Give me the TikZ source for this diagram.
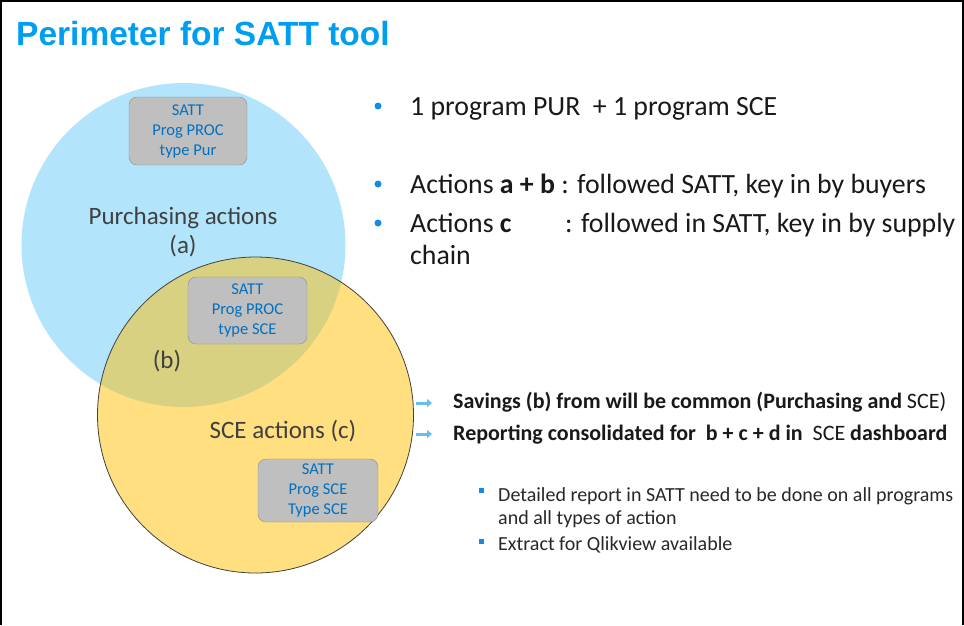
\documentclass[tikz,border=0pt]{standalone}
\usepackage{fontspec}
\setmainfont{Carlito}
\newfontfamily\titlefont{Liberation Sans}
\usetikzlibrary{arrows.meta}
\definecolor{cblue}{RGB}{178,229,252}
\definecolor{cyellow}{RGB}{255,223,128}
\definecolor{cover}{RGB}{216,209,130}
\definecolor{titleblue}{RGB}{0,158,240}
\definecolor{boxtext}{RGB}{0,112,192}
\definecolor{boxfill}{RGB}{191,191,191}
\definecolor{boxline}{RGB}{140,140,140}
\definecolor{labelgray}{RGB}{64,64,64}
\definecolor{bulletblue}{RGB}{20,140,230}
\definecolor{arrowblue}{RGB}{100,190,240}
\definecolor{bodytext}{RGB}{25,25,25}
\definecolor{smalltext}{RGB}{40,40,40}
\begin{document}
\begin{tikzpicture}[x=1pt,y=-1pt,
  sattbox/.style={draw=boxline, fill=boxfill, rounded corners=8pt, text=boxtext, align=center,
    font=\fontsize{16.5}{20}\selectfont, inner sep=0pt},
  circlabel/.style={anchor=base, text=labelgray, font=\fontsize{25}{30}\selectfont, inner sep=0pt},
  bigtext/.style={anchor=base west, text=bodytext, font=\fontsize{27.8}{32}\selectfont, inner sep=0pt},
  midtext/.style={anchor=base west, text=bodytext, font=\fontsize{22}{25}\selectfont, inner sep=0pt},
  smalltxt/.style={anchor=base west, text=smalltext, font=\fontsize{20}{23}\selectfont, inner sep=0pt},
  bigdot/.style={fill=bulletblue},
  sqdot/.style={fill=bulletblue},
  arrmark/.style={draw=arrowblue, line width=3pt, -{Triangle[length=5pt,width=8pt]}}
]
\useasboundingbox (0,0) rectangle (964,625);
\fill[white] (0,0) rectangle (964,625);
\draw[line width=2pt] (1,625) -- (1,1) -- (963,1) -- (963,625);

% title
\node[anchor=base west, text=titleblue, font=\titlefont\bfseries\fontsize{33.5}{40}\selectfont, inner sep=0pt] (title) at (16,45) {Perimeter for SATT tool};

% circles
\coordinate (pc) at (183.5,245);
\coordinate (sc) at (255.5,415);
\fill[cblue] (pc) circle[radius=162];
\fill[cyellow] (sc) circle[radius=158];
\begin{scope}
  \clip (pc) circle[radius=162];
  \fill[cover] (sc) circle[radius=158];
\end{scope}
\draw[line width=0.8pt, black!75] (sc) circle[radius=158];

% boxes
\node[sattbox, minimum width=118pt, minimum height=68pt] (b1) at (188,131) {SATT\\Prog PROC\\type Pur};
\node[sattbox, minimum width=119pt, minimum height=67pt] (b2) at (247.5,310.5) {SATT\\Prog PROC\\type SCE};
\node[sattbox, minimum width=120pt, minimum height=63pt] (b3) at (318,490.5) {SATT\\Prog SCE\\Type SCE};

% circle labels
\node[circlabel] (pa) at (183,224) {Purchasing actions};
\node[circlabel] (pa2) at (183,253) {(a)};
\node[circlabel] (bb) at (167,368) {(b)};
\node[circlabel] (sce) at (283,438) {SCE actions (c)};

% right bullets
\fill[bigdot] (378,106) circle[radius=3.5];
\fill[bigdot] (378,184) circle[radius=3.5];
\fill[bigdot] (378,223) circle[radius=3.5];
\node[bigtext] (t1) at (410,115) {1 program PUR\ \ + 1 program SCE};
\node[bigtext] (t2) at (410,193) {Actions \textbf{a + b} : followed SATT, key in by buyers};
\node[bigtext] (t3) at (410,232) {Actions \textbf{c}};
\node[bigtext] (t3b) at (565,232) {: followed in SATT, key in by supply};
\node[bigtext] (t4) at (410,264) {chain};

% arrow lines
\coordinate (a1s) at (416,403);
\coordinate (a1e) at (432,403);
\coordinate (a2s) at (416,434);
\coordinate (a2e) at (432,434);
\draw[arrmark] (a1s) -- (a1e);
\draw[arrmark] (a2s) -- (a2e);
\node[midtext] (s1) at (453,408) {\bfseries Savings (b) from will be common (Purchasing and \mdseries SCE)};
\node[midtext] (s2) at (453,440) {\bfseries Reporting consolidated for\ \ b + c + d in\ \ \mdseries SCE \bfseries dashboard};

% small bullets
\fill[sqdot] (478.5,488) rectangle (483.5,493);
\fill[sqdot] (478.5,539) rectangle (483.5,544);
\node[smalltxt] (d1) at (498,501) {Detailed report in SATT need to be done on all programs};
\node[smalltxt] (d2) at (498,524) {and all types of action};
\node[smalltxt] (d3) at (498,550) {Extract for Qlikview available};
\end{tikzpicture}
\end{document}
